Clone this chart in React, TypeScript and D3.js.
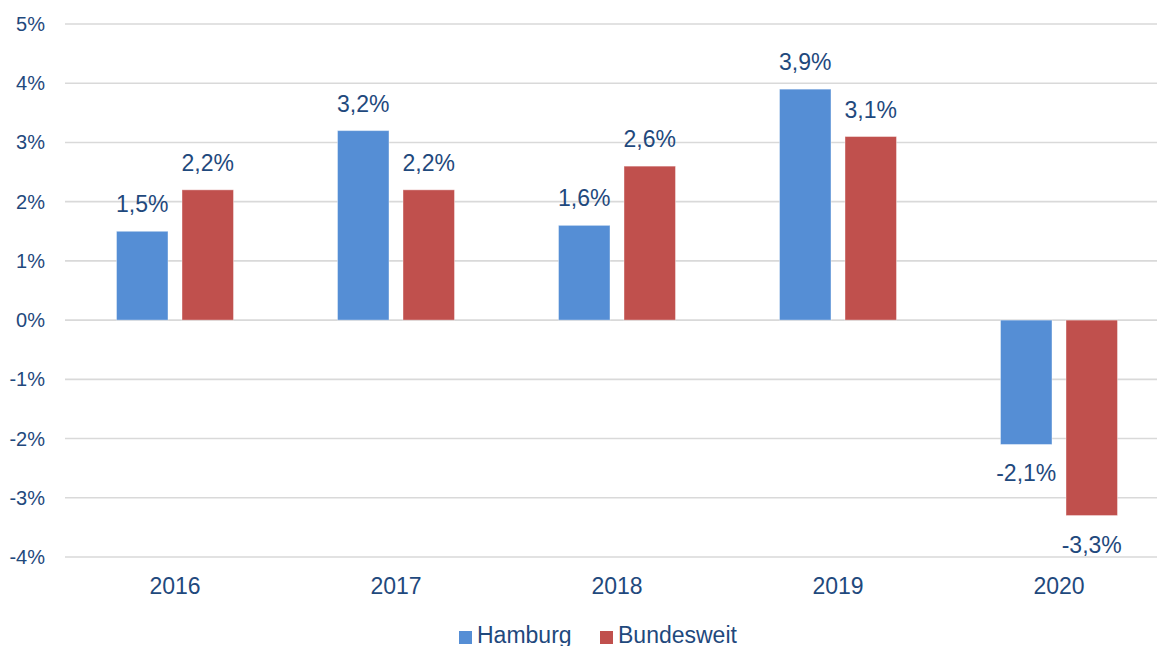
import React, { useEffect, useRef } from 'react';
import * as d3 from 'd3';

const years = ['2016', '2017', '2018', '2019', '2020'];
const hamburg = [1.5, 3.2, 1.6, 3.9, -2.1];
const bundesweit = [2.2, 2.2, 2.6, 3.1, -3.3];
const seriesNames = ['Hamburg', 'Bundesweit'];
const seriesColors = ['#558ED5', '#C0504D'];
const yTicks = [5, 4, 3, 2, 1, 0, -1, -2, -3, -4];

const W = 1157;
const H = 646;
const TEXT = '#1F497D';
const FONT = '"Liberation Sans", Arial, sans-serif';

const fmt = (v: number) => `${v.toFixed(1).replace('.', ',')}%`;

export default function App() {
  const svgRef = useRef<SVGSVGElement>(null);

  useEffect(() => {
    if (!svgRef.current) return;
    const svg = d3.select(svgRef.current);
    svg.selectAll('*').remove();

    const x = d3.scaleBand<string>().domain(years).range([64.5, 1169.5]);
    const y = d3.scaleLinear().domain([-4, 5]).range([557, 24]);
    // pair of bars per year: two bars of ~51px with a ~14px gap
    const inner = d3.scaleBand<number>().domain([0, 1]).range([0, 117]).paddingInner(0.214);

    // Gridlines
    svg.append('g').selectAll('line').data(yTicks).join('line')
      .attr('x1', 65).attr('x2', 1170)
      .attr('y1', d => y(d)).attr('y2', d => y(d))
      .attr('stroke', '#D9D9D9').attr('stroke-width', 1.6);

    // Y labels
    svg.append('g').selectAll('text').data(yTicks).join('text')
      .attr('x', 45).attr('y', d => y(d))
      .attr('dy', '0.35em').attr('text-anchor', 'end')
      .attr('font-size', 20).attr('fill', TEXT).attr('font-family', FONT)
      .text(d => `${d}%`);

    // X labels
    svg.append('g').selectAll('text').data(years).join('text')
      .attr('x', d => x(d)! + x.bandwidth() / 2).attr('y', 594)
      .attr('text-anchor', 'middle')
      .attr('font-size', 23).attr('fill', TEXT).attr('font-family', FONT)
      .text(d => d);

    // Bars
    const series = [hamburg, bundesweit];
    series.forEach((vals, si) => {
      const g = svg.append('g');
      const bx = (i: number) => x(years[i])! + x.bandwidth() / 2 - 58.5 + inner(si)!;
      g.selectAll('rect').data(vals).join('rect')
        .attr('x', (_, i) => bx(i))
        .attr('y', d => y(Math.max(0, d)))
        .attr('width', inner.bandwidth())
        .attr('height', d => Math.abs(y(d) - y(0)))
        .attr('fill', seriesColors[si])
        .attr('stroke', '#ffffff').attr('stroke-opacity', 0.4).attr('stroke-width', 1);
      g.selectAll('text').data(vals).join('text')
        .attr('x', (_, i) => bx(i) + inner.bandwidth() / 2)
        .attr('y', d => d >= 0 ? y(d) - 19 : y(d) + 37)
        .attr('text-anchor', 'middle')
        .attr('font-size', 23).attr('fill', TEXT).attr('font-family', FONT)
        .text(d => fmt(d));
    });

    // Legend (cut at the bottom edge, as in the source)
    const legendX = [459, 600];
    seriesNames.forEach((name, i) => {
      svg.append('rect')
        .attr('x', legendX[i]).attr('y', 631)
        .attr('width', 13).attr('height', 13)
        .attr('fill', seriesColors[i]);
      svg.append('text')
        .attr('x', legendX[i] + 18).attr('y', 643)
        .attr('font-size', 23).attr('fill', TEXT).attr('font-family', FONT)
        .text(name);
    });
  }, []);

  return (
    <svg
      ref={svgRef}
      width={W}
      height={H}
      style={{ position: 'absolute', left: 0, top: 0, background: '#fff' }}
    />
  );
}
